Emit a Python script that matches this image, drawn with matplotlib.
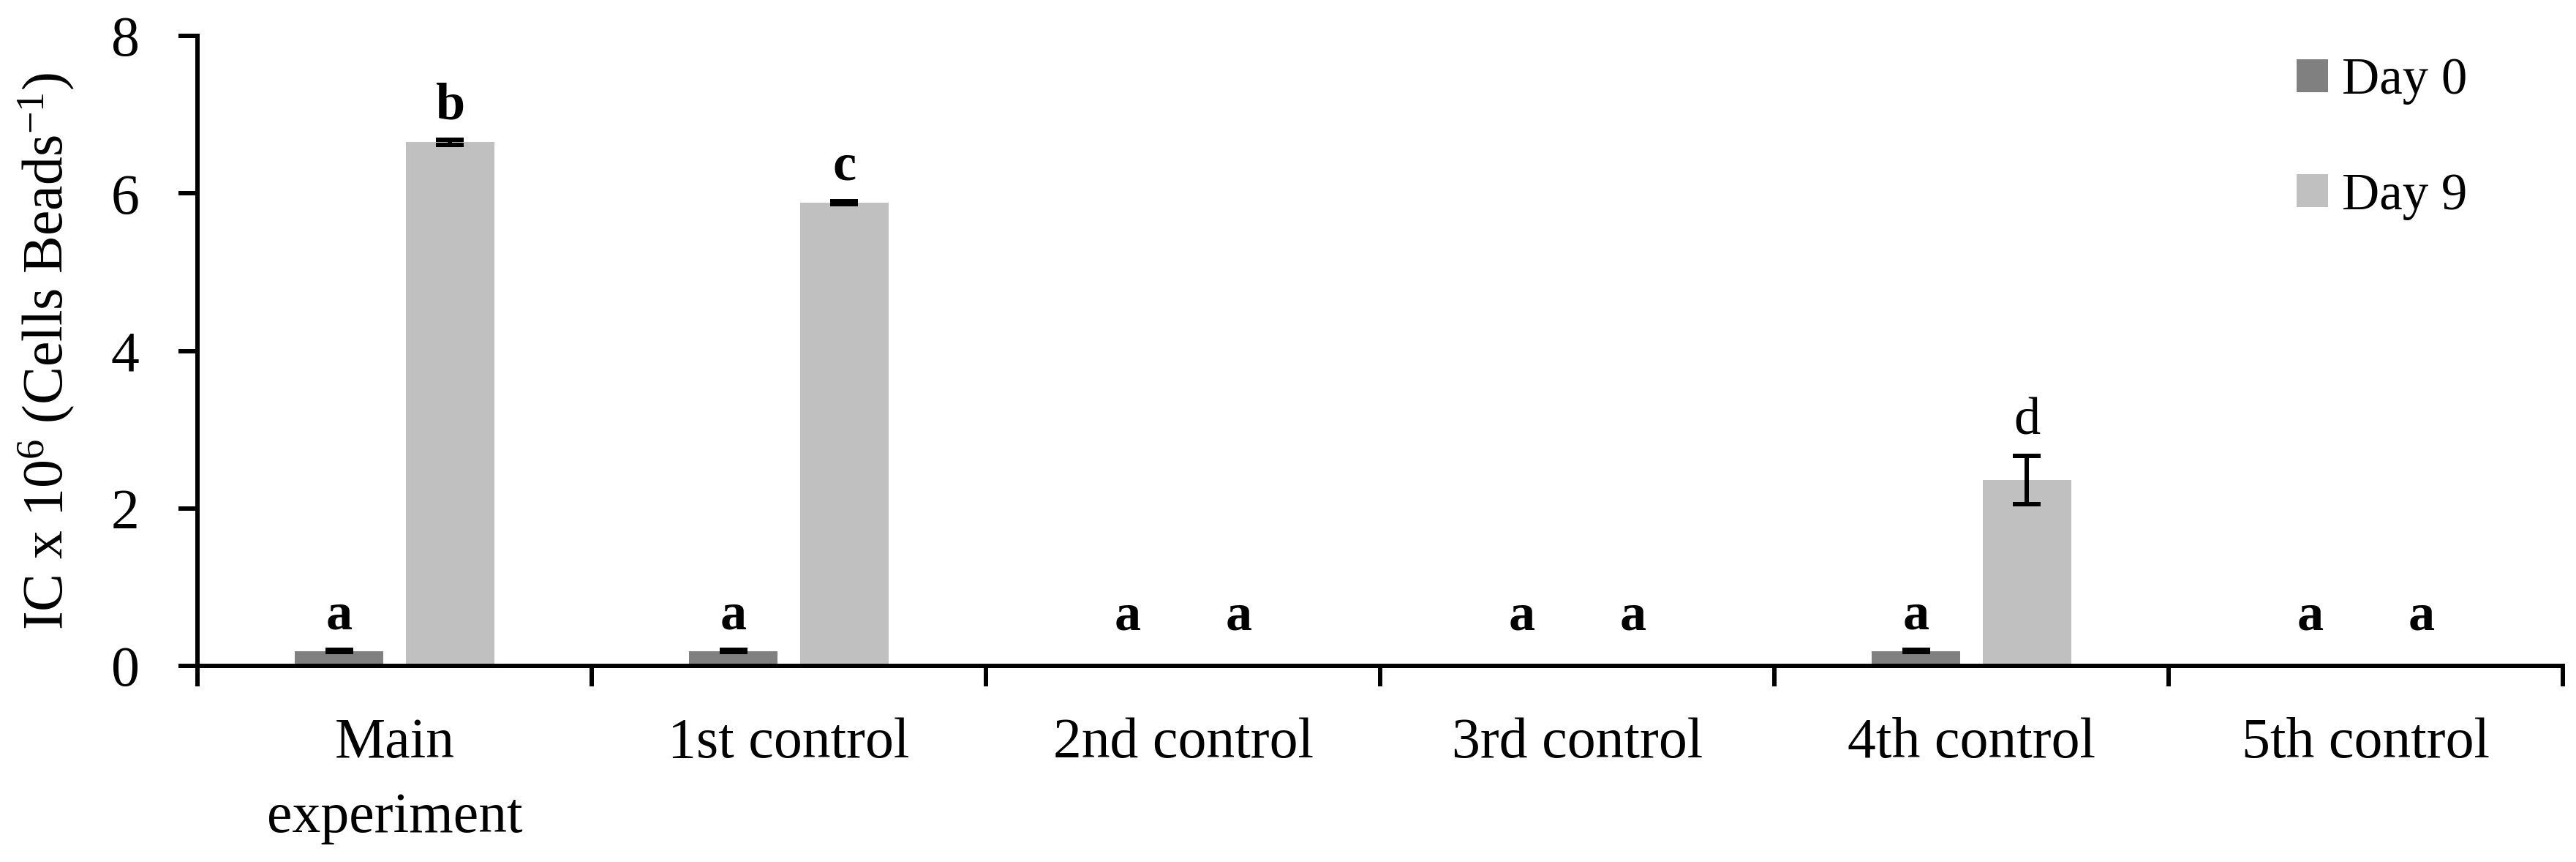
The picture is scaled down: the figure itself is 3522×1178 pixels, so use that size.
import numpy as np
import matplotlib
matplotlib.use("Agg")
import matplotlib.pyplot as plt
from matplotlib.patches import Patch

# ---- data ----
categories = ["Main\nexperiment", "1st control", "2nd control",
              "3rd control", "4th control", "5th control"]
day0 = [0.19, 0.19, 0.0, 0.0, 0.19, 0.0]
day0_err = [0.01, 0.01, 0.0, 0.0, 0.01, 0.0]
day9 = [6.65, 5.88, 0.0, 0.0, 2.36, 0.0]
day9_err = [0.03, 0.02, 0.0, 0.0, 0.31, 0.0]
letters_day0 = ["a", "a", "a", "a", "a", "a"]
letters_day9 = ["b", "c", "a", "a", "d", "a"]
bold_day0 = [True, True, True, True, True, True]
bold_day9 = [True, True, True, True, False, True]
series_names = ["Day 0", "Day 9"]
yticks = [0, 2, 4, 6, 8]

# ---- style ----
plt.rcParams["font.family"] = ["Liberation Serif", "DejaVu Serif"]
plt.rcParams["mathtext.fontset"] = "custom"
plt.rcParams["mathtext.rm"] = "Liberation Serif"
plt.rcParams["mathtext.it"] = "Liberation Serif:italic"
plt.rcParams["mathtext.bf"] = "Liberation Serif:bold"

W, H = 3522, 1178
fig = plt.figure(figsize=(W / 100, H / 100), dpi=100)
ax = fig.add_axes([270 / W, 268 / H, (3504 - 270) / W, (910 - 49) / H])

c0, c9 = "#808080", "#C0C0C0"
x = np.arange(len(categories))
bw = 0.225
off = 0.141
lw = 4.3

ax.bar(x - off, day0, width=bw, color=c0, label=series_names[0], zorder=2)
ax.bar(x + off, day9, width=bw, color=c9, label=series_names[1], zorder=2)

d0 = np.array(day0); e0 = np.array(day0_err)
d9 = np.array(day9); e9 = np.array(day9_err)
m0 = d0 > 0
m9 = d9 > 0
ax.errorbar(x[m0] - off, d0[m0], yerr=e0[m0], fmt="none", ecolor="black",
            elinewidth=lw, capsize=13.7, capthick=lw, zorder=3)
ax.errorbar(x[m9] + off, d9[m9], yerr=e9[m9], fmt="none", ecolor="black",
            elinewidth=lw, capsize=13.7, capthick=lw, zorder=3)

# significance letters
floor = 0.19
gap = 0.27
for xs, vals, errs, letters, bolds in [
        (x - off, d0, e0, letters_day0, bold_day0),
        (x + off, d9, e9, letters_day9, bold_day9)]:
    for xi, v, e, L, b in zip(xs, vals, errs, letters, bolds):
        yy = max(v + e, floor) + gap
        ax.text(xi, yy, L, ha="center", va="baseline", fontsize=52,
                fontweight="bold" if b else "normal", zorder=4)

ax.set_xlim(-0.5, len(categories) - 0.5)
ax.set_ylim(0, 8)
ax.set_yticks(yticks)
ax.set_yticklabels([str(t) for t in yticks])

ax.set_xticks(np.arange(len(categories) + 1) - 0.5)
ax.set_xticklabels([])
ax.set_xticks(x, minor=True)
ax.set_xticklabels(categories, minor=True)
for lbl in ax.get_xticklabels(minor=True):
    lbl.set_linespacing(1.55)

ax.tick_params(axis="x", which="major", direction="out", length=20, width=lw)
ax.tick_params(axis="x", which="minor", length=0, pad=51, labelsize=56)
ax.tick_params(axis="y", which="major", direction="out", length=19, width=lw,
               pad=38, labelsize=56)

for s in ["top", "right"]:
    ax.spines[s].set_visible(False)
for s in ["left", "bottom"]:
    ax.spines[s].set_linewidth(lw)

ax.set_ylabel(r"IC x 10$^{6}$ (Cells Beads$^{-1}$)", fontsize=56, labelpad=34)

handles = [Patch(facecolor=c0, edgecolor="none"), Patch(facecolor=c9, edgecolor="none")]
fig.legend(handles, series_names, loc="upper left",
           bbox_to_anchor=(3140 / W, 1 - 78 / H), bbox_transform=fig.transFigure,
           frameon=False, fontsize=51, handlelength=0.6, handleheight=0.6,
           handletextpad=0.28, labelspacing=1.31, borderpad=0, borderaxespad=0)

fig.savefig("out.png", dpi=100)
